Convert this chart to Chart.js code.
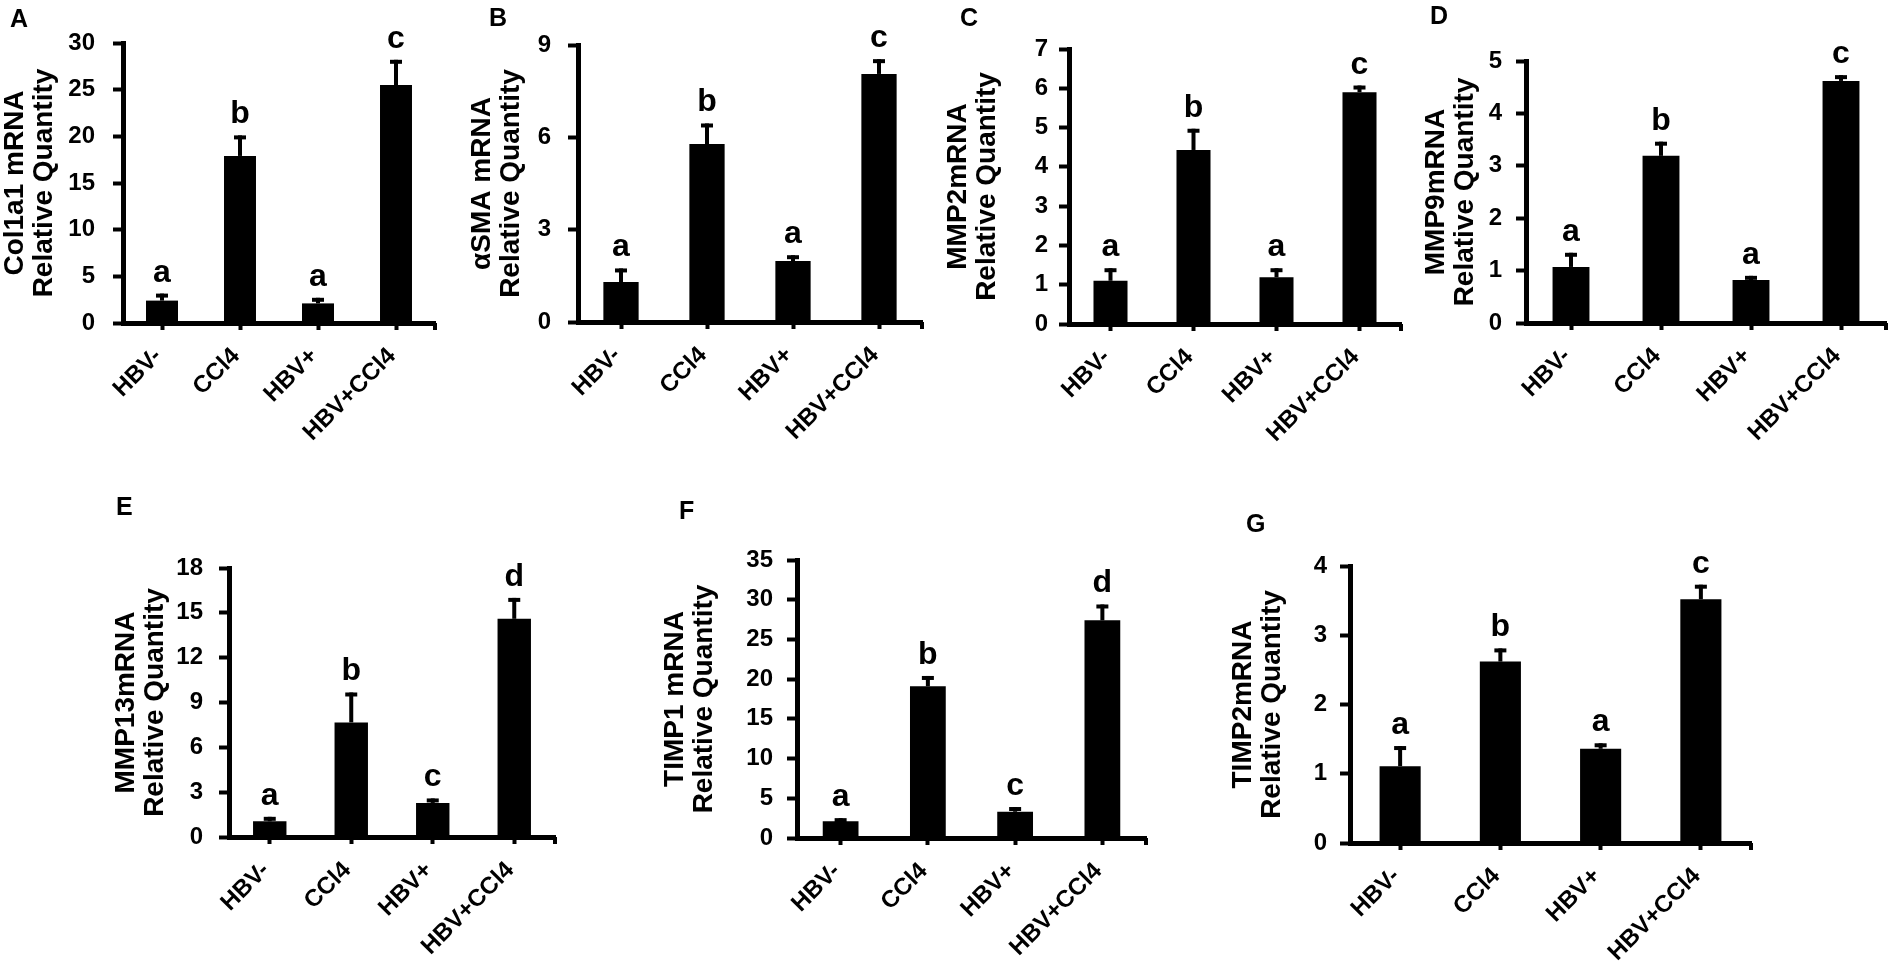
<!DOCTYPE html>
<html><head><meta charset="utf-8">
<script src="https://cdn.jsdelivr.net/npm/chart.js@4.4.1/dist/chart.umd.min.js"></script>
<style>
html,body{margin:0;padding:0;background:#fff;width:1890px;height:968px;overflow:hidden;position:relative}
canvas{position:absolute}
</style></head><body>
<script>
// ---------- DATA ----------
const categories = ['HBV-', 'CCl4', 'HBV+', 'HBV+CCl4'];
const panelLetters = ['A', 'B', 'C', 'D', 'E', 'F', 'G'];
const yTitles = [
  ['Col1a1 mRNA', 'Relative Quantity'],
  ['\u03b1SMA mRNA', 'Relative Quantity'],
  ['MMP2mRNA', 'Relative Quantity'],
  ['MMP9mRNA', 'Relative Quantity'],
  ['MMP13mRNA', 'Relative Quantity'],
  ['TIMP1 mRNA', 'Relative Quantity'],
  ['TIMP2mRNA', 'Relative Quantity']
];
const col1a1Mean = [2.4, 17.9, 2.1, 25.5];
const col1a1Sem  = [0.75, 2.2, 0.6, 2.7];
const col1a1Sig  = ['a', 'b', 'a', 'c'];
const asmaMean = [1.30, 5.78, 1.98, 8.06];
const asmaSem  = [0.44, 0.67, 0.19, 0.48];
const asmaSig  = ['a', 'b', 'a', 'c'];
const mmp2Mean = [1.10, 4.43, 1.19, 5.90];
const mmp2Sem  = [0.32, 0.54, 0.23, 0.17];
const mmp2Sig  = ['a', 'b', 'a', 'c'];
const mmp9Mean = [1.07, 3.19, 0.82, 4.62];
const mmp9Sem  = [0.27, 0.27, 0.08, 0.11];
const mmp9Sig  = ['a', 'b', 'a', 'c'];
const mmp13Mean = [1.05, 7.67, 2.28, 14.6];
const mmp13Sem  = [0.3, 2.0, 0.3, 1.4];
const mmp13Sig  = ['a', 'b', 'c', 'd'];
const timp1Mean = [2.1, 19.1, 3.3, 27.4];
const timp1Sem  = [0.4, 1.3, 0.6, 2.0];
const timp1Sig  = ['a', 'b', 'c', 'd'];
const timp2Mean = [1.11, 2.62, 1.36, 3.52];
const timp2Sem  = [0.29, 0.19, 0.08, 0.21];
const timp2Sig  = ['a', 'b', 'a', 'c'];
const yMaxes = [30, 9, 7, 5, 18, 35, 4];
const ySteps = [5, 3, 1, 1, 3, 5, 1];

const means = [col1a1Mean, asmaMean, mmp2Mean, mmp9Mean, mmp13Mean, timp1Mean, timp2Mean];
const sems  = [col1a1Sem, asmaSem, mmp2Sem, mmp9Sem, mmp13Sem, timp1Sem, timp2Sem];
const sigs  = [col1a1Sig, asmaSig, mmp2Sig, mmp9Sig, mmp13Sig, timp1Sig, timp2Sig];

// ---------- LAYOUT (page pixels) ----------
// canvas box (cx, cy, cw, ch), plot area (l, t, r, b), tick padding, panel letter position
const layouts = [
  {cx: 1,    cy: 0,   cw: 444, ch: 450, l: 123,  t: 43,  r: 435,  b: 323, tp: 18, lx: 10,   ly: 27},
  {cx: 468,  cy: 0,   cw: 462, ch: 450, l: 578,  t: 45,  r: 922,  b: 322, tp: 17, lx: 489,  ly: 26},
  {cx: 944,  cy: 0,   cw: 466, ch: 450, l: 1069, t: 49,  r: 1401, b: 324, tp: 11, lx: 960,  ly: 26},
  {cx: 1422, cy: 0,   cw: 468, ch: 450, l: 1526, t: 61,  r: 1886, b: 323, tp: 14, lx: 1430, ly: 24},
  {cx: 112,  cy: 440, cw: 453, ch: 528, l: 229,  t: 568, r: 555,  b: 837, tp: 16, lx: 116,  ly: 515},
  {cx: 661,  cy: 440, cw: 495, ch: 528, l: 797,  t: 560, r: 1146, b: 838, tp: 14, lx: 679,  ly: 519},
  {cx: 1229, cy: 440, cw: 536, ch: 528, l: 1350, t: 566, r: 1751, b: 843, tp: 13, lx: 1246, ly: 532}
];

const FONT = "'Liberation Sans', Arial, Helvetica, sans-serif";
Chart.defaults.font.family = FONT;
Chart.defaults.color = '#000';

function annotPlugin(idx, L) {
  return {
    id: 'annot' + idx,
    afterDatasetsDraw(chart) {
      const {ctx, chartArea, scales: {y}} = chart;
      const meta = chart.getDatasetMeta(0);
      ctx.save();
      ctx.fillStyle = '#000';
      meta.data.forEach((bar, i) => {
        const v = means[idx][i], e = sems[idx][i];
        const yBar = y.getPixelForValue(v);
        const yTop = y.getPixelForValue(v + e);
        ctx.fillRect(bar.x - 2, yTop, 4, yBar - yTop);
        ctx.fillRect(bar.x - 6, yTop, 12, 4);
        ctx.font = 'bold 32px ' + FONT;
        ctx.textAlign = 'center';
        ctx.textBaseline = 'alphabetic';
        ctx.fillText(sigs[idx][i], bar.x, yTop - 12);
      });
      // closing tick at the right end of the x axis
      ctx.fillRect(chartArea.right - 2, chartArea.bottom, 4, 7);
      // panel letter
      ctx.font = 'bold 25px ' + FONT;
      ctx.textAlign = 'left';
      ctx.textBaseline = 'alphabetic';
      ctx.fillText(panelLetters[idx], L.lx - L.cx, L.ly - L.cy);
      ctx.restore();
    }
  };
}

layouts.forEach((L, idx) => {
  const cv = document.createElement('canvas');
  cv.width = L.cw; cv.height = L.ch;
  cv.style.left = L.cx + 'px'; cv.style.top = L.cy + 'px';
  cv.style.width = L.cw + 'px'; cv.style.height = L.ch + 'px';
  document.body.appendChild(cv);
  const yW = L.l - L.cx;
  const xH = (L.cy + L.ch) - L.b;
  new Chart(cv, {
    type: 'bar',
    data: {
      labels: categories,
      datasets: [{
        data: means[idx],
        backgroundColor: '#000',
        borderWidth: 0,
        categoryPercentage: 1.0,
        barPercentage: 0.41
      }]
    },
    options: {
      responsive: false,
      animation: false,
      devicePixelRatio: 1,
      layout: {padding: {left: 0, top: L.t - L.cy, right: (L.cx + L.cw) - L.r, bottom: 0}},
      plugins: {legend: {display: false}, tooltip: {enabled: false}, title: {display: false}},
      scales: {
        x: {
          offset: true,
          grid: {offset: false, drawOnChartArea: false, drawTicks: true, tickLength: 7, tickWidth: 4, tickColor: '#000', color: '#000'},
          border: {display: true, width: 5, color: '#000'},
          ticks: {minRotation: 45, maxRotation: 45, autoSkip: false, padding: 14, labelOffset: -4,
                  font: {size: 24, weight: 'bold', lineHeight: 1.0}, color: '#000'},
          afterFit: s => { s.height = xH; }
        },
        y: {
          min: 0, max: yMaxes[idx],
          grid: {drawOnChartArea: false, drawTicks: true, tickLength: 10, tickWidth: 4, tickColor: '#000', color: '#000'},
          border: {display: true, width: 5, color: '#000'},
          ticks: {stepSize: ySteps[idx], padding: L.tp, font: {size: 24, weight: 'bold'}, color: '#000'},
          title: {display: true, text: yTitles[idx], color: '#000', padding: {top: 0, bottom: 0},
                  font: {size: 28, weight: 'bold', lineHeight: 1.03}},
          afterFit: s => { s.width = yW; }
        }
      }
    },
    plugins: [annotPlugin(idx, L)]
  });
});
</script>
</body></html>
